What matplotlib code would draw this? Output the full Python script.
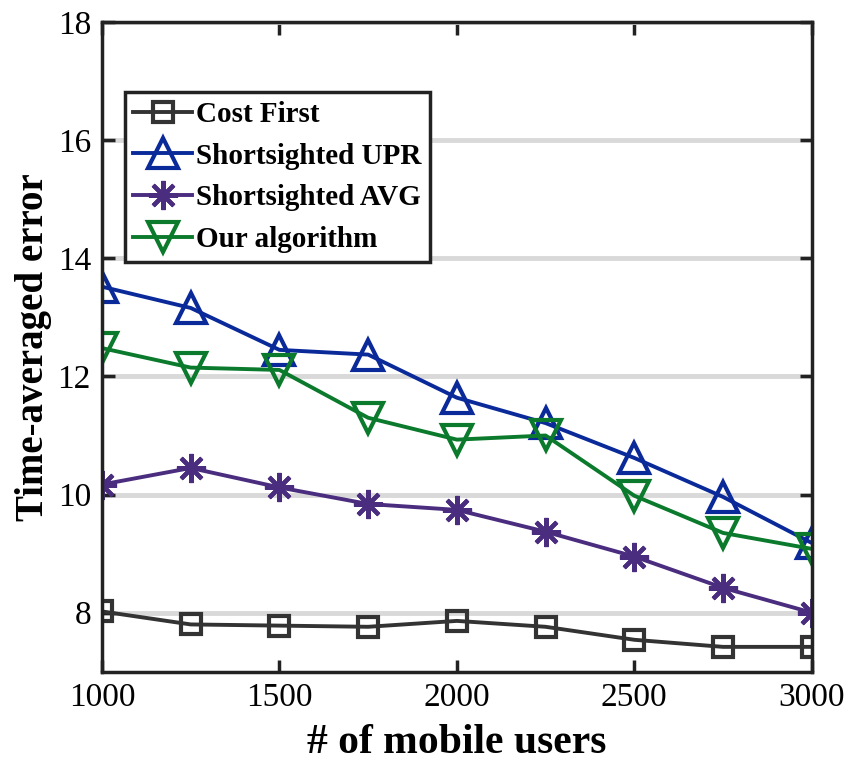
import numpy as np
import matplotlib.pyplot as plt

users = [1000, 1250, 1500, 1750, 2000, 2250, 2500, 2750, 3000]
cost_first = [8.02, 7.80, 7.78, 7.76, 7.86, 7.76, 7.54, 7.42, 7.42]
upr = [13.52, 13.16, 12.45, 12.37, 11.64, 11.21, 10.62, 9.96, 9.18]
avg = [10.17, 10.45, 10.12, 9.84, 9.74, 9.37, 8.95, 8.42, 8.00]
ours = [12.48, 12.15, 12.11, 11.30, 10.93, 11.00, 9.98, 9.35, 9.08]

plt.rcParams['font.family'] = ['Liberation Serif', 'DejaVu Serif']

fig = plt.figure(figsize=(8.5, 7.65), dpi=100)
ax = fig.add_axes([0.12, 0.122, 0.835, 0.849])

# horizontal grid only
ax.yaxis.grid(True, color='#d9d9d9', linewidth=3.5, zorder=0)
ax.set_axisbelow(True)

lw = 2.8
mew = 3.0
ax.plot(users, cost_first, color='#333333', lw=lw, marker='s', ms=15,
        mfc='none', mew=mew, label='Cost First')
ax.plot(users, upr, color='#0a2a9a', lw=lw, marker='^', ms=21,
        mfc='none', mew=mew, label='Shortsighted UPR')
ax.plot(users, avg, color='#4b2d7f', lw=lw, marker=(8, 2, 0), ms=21,
        mew=mew, label='Shortsighted AVG')
ax.plot(users, ours, color='#0b7a2c', lw=lw, marker='v', ms=21,
        mfc='none', mew=mew, label='Our algorithm')

ax.set_xlim(1000, 3000)
ax.set_ylim(7, 18)
ax.set_xticks([1000, 1500, 2000, 2500, 3000])
ax.set_yticks([8, 10, 12, 14, 16, 18])

for s in ax.spines.values():
    s.set_linewidth(2.5)
    s.set_color('#222222')
ax.tick_params(direction='in', length=9, width=2.5, labelsize=24,
               top=True, right=True, pad=8, colors='#222222')
for t in ax.get_xticklabels() + ax.get_yticklabels():
    t.set_color('black')

ax.set_xlabel('# of mobile users', fontsize=30, fontweight='bold', labelpad=8)
ax.set_ylabel('Time-averaged error', fontsize=28, fontweight='bold', labelpad=4)

leg = ax.legend(loc='upper left', bbox_to_anchor=(0.032, 0.892),
                prop={'weight': 'bold', 'size': 21}, frameon=True, fancybox=False,
                handlelength=2.0, handletextpad=0.15, borderpad=0.3,
                labelspacing=0.5, borderaxespad=0, framealpha=1)
leg.get_frame().set_edgecolor('#222222')
leg.get_frame().set_linewidth(2.5)

fig.savefig('out.png', dpi=100)
